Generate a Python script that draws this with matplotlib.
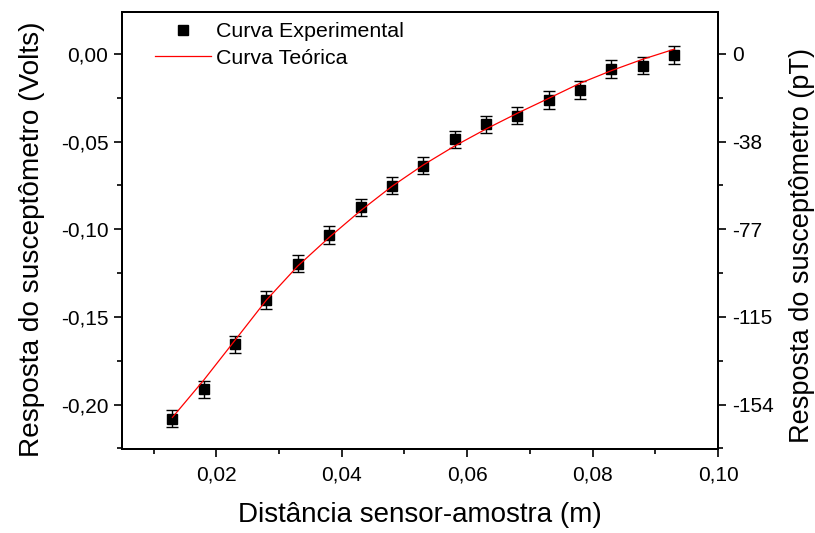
import matplotlib
matplotlib.use("Agg")
import matplotlib.pyplot as plt
from matplotlib.ticker import MultipleLocator, FuncFormatter

plt.rcParams["font.family"] = ["Liberation Sans", "DejaVu Sans"]

# distancia sensor-amostra (m)
distancia = [0.013, 0.018, 0.023, 0.028, 0.033, 0.038, 0.043, 0.048, 0.053,
             0.058, 0.063, 0.068, 0.073, 0.078, 0.083, 0.088, 0.093]
# pontos experimentais (V)
resposta_exp = [-0.2080, -0.1913, -0.1656, -0.1403, -0.1196, -0.1033, -0.0875,
                -0.0751, -0.0637, -0.0487, -0.0401, -0.0352, -0.0262, -0.0205,
                -0.0087, -0.0067, -0.0006]
erro = [0.005] * 17
# curva teorica (V)
resposta_teo = [-0.2073, -0.1860, -0.1632, -0.1403, -0.1209, -0.1046, -0.0894,
                -0.0755, -0.0633, -0.0525, -0.0428, -0.0338, -0.0253, -0.0167,
                -0.0095, -0.0030, 0.0027]

yticks = [0.0, -0.05, -0.10, -0.15, -0.20]
yticks_pT = ["0", "-38", "-77", "-115", "-154"]

fig = plt.figure(figsize=(8.15, 5.33), dpi=100)
ax = fig.add_axes([0.150, 0.157, 0.731, 0.821])

ax.errorbar(distancia, resposta_exp, yerr=erro, fmt="none", ecolor="black",
            elinewidth=1.0, capsize=4, capthick=1.0, zorder=2)
ax.plot(distancia, resposta_exp, "s", color="black", ms=6.5,
        label="Curva Experimental", zorder=3)
ax.plot(distancia, resposta_teo, "-", color="red", lw=0.9,
        label="Curva Teórica", zorder=4)

ax.set_xlim(0.005, 0.10)
ax.set_ylim(-0.2255, 0.0241)
ax.xaxis.set_major_locator(MultipleLocator(0.02))
ax.xaxis.set_minor_locator(MultipleLocator(0.01))
ax.set_yticks(yticks)
ax.yaxis.set_minor_locator(MultipleLocator(0.025))
ax.xaxis.set_major_formatter(FuncFormatter(lambda v, p: f"{v:.2f}".replace(".", ",")))
ax.yaxis.set_major_formatter(FuncFormatter(lambda v, p: f"{v:.2f}".replace(".", ",").replace("-0,00", "0,00")))

ax.set_xlabel("Distância sensor-amostra (m)", fontsize=20, labelpad=12)
ax.set_ylabel("Resposta do susceptômetro (Volts)", fontsize=20.2, labelpad=11)
ax.yaxis.label.set_y(0.48)

ax2 = ax.twinx()
ax2.set_ylim(ax.get_ylim())
ax2.set_yticks(yticks)
ax2.set_yticklabels(yticks_pT)
ax2.yaxis.set_minor_locator(MultipleLocator(0.025))
ax2.set_ylabel("Resposta do susceptômetro (pT)", fontsize=19.5, labelpad=11)
ax2.yaxis.label.set_y(0.465)

for a in (ax, ax2):
    for s in a.spines.values():
        s.set_linewidth(1.4)
    a.tick_params(which="major", direction="out", length=6, width=1.2,
                  labelsize=15, pad=4)
    a.tick_params(which="minor", direction="out", length=3.5, width=1.2)
ax.tick_params(axis="x", which="major", pad=6)
ax.tick_params(top=False, right=False, which="both")
ax2.tick_params(left=False, which="both")

ax.legend(loc="upper left", bbox_to_anchor=(0.03, 1.01), frameon=False,
          fontsize=15.4, handlelength=2.6, handletextpad=0.25,
          labelspacing=0.35, borderaxespad=0.3, numpoints=1)

fig.savefig("out.png", dpi=100)
